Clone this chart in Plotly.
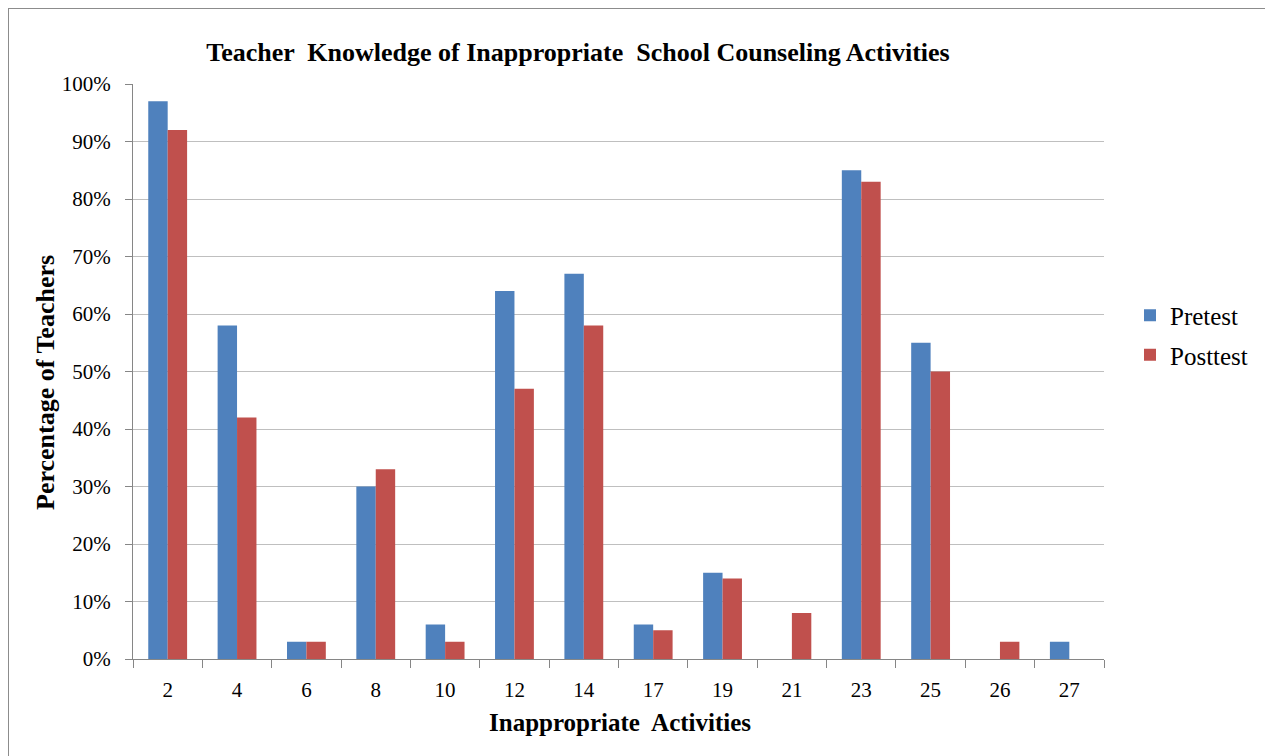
import plotly.graph_objects as go

categories = ["2", "4", "6", "8", "10", "12", "14", "17", "19", "21", "23", "25", "26", "27"]
pretest = [0.97, 0.58, 0.03, 0.30, 0.06, 0.64, 0.67, 0.06, 0.15, 0.0, 0.85, 0.55, 0.0, 0.03]
posttest = [0.92, 0.42, 0.03, 0.33, 0.03, 0.47, 0.58, 0.05, 0.14, 0.08, 0.83, 0.50, 0.03, 0.0]
y_ticks = [i / 10 for i in range(11)]

FONT = "Liberation Serif, Times New Roman, serif"
OFF = 8  # page body margin
W, H = 1273 - OFF, 756 - OFF
# plot area in screen pixels: x 133..1104, y 84..659
L, T = 133 - OFF, 84 - OFF
R = W - (1104 - OFF)
B = H - (659 - OFF)
pw, ph = W - L - R, H - T - B


def px_x(p):
    """screen x pixel -> paper fraction"""
    return (p - OFF - L) / pw


def px_y(p):
    """screen y pixel -> paper fraction"""
    return 1 - (p - OFF - T) / ph


fig = go.Figure()
fig.add_trace(go.Bar(name="Pretest", x=categories, y=pretest, legendgroup="a",
                     marker=dict(color="#4F81BD", line=dict(width=0))))
fig.add_trace(go.Bar(name="Posttest", x=categories, y=posttest, legendgroup="b",
                     marker=dict(color="#C0504D", line=dict(width=0))))

fig.update_layout(
    width=W, height=H,
    margin=dict(l=L, r=R, t=T, b=B, autoexpand=False),
    paper_bgcolor="white", plot_bgcolor="white",
    barmode="group", bargap=0.44, bargroupgap=0,
    font=dict(family=FONT, color="black"),
    showlegend=True,
    legend=dict(x=px_x(1130), y=px_y(335), xanchor="left", yanchor="middle",
                font=dict(size=25, family=FONT), itemwidth=30, tracegroupgap=4,
                traceorder="grouped", bgcolor="rgba(0,0,0,0)"),
    title=dict(text="<b>Teacher  Knowledge of Inappropriate  School Counseling Activities</b>",
               x=(578 - OFF) / W, xanchor="center", y=1 - (52 - OFF) / H, yanchor="middle",
               xref="container", yref="container",
               font=dict(size=26, family=FONT)),
    xaxis=dict(type="category", tickson="boundaries", ticks="outside", ticklen=8,
               tickcolor="#868686", showline=True, linecolor="#868686", linewidth=1,
               tickfont=dict(size=21, family=FONT), showgrid=False,
               ticklabelstandoff=12),
    yaxis=dict(range=[0, 1], tickvals=y_ticks, tickformat=".0%", ticks="outside", ticklen=7,
               tickcolor="#868686", showline=True, linecolor="#868686", linewidth=1,
               showgrid=True, gridcolor="#BFBFBF", gridwidth=1, zeroline=False,
               tickfont=dict(size=21, family=FONT), ticklabelstandoff=10),
    annotations=[
        dict(text="<b>Inappropriate  Activities</b>", xref="paper", yref="paper",
             x=px_x(620), y=px_y(722), xanchor="center", yanchor="middle",
             showarrow=False, font=dict(size=25, family=FONT)),
        dict(text="<b>Percentage of Teachers</b>", xref="paper", yref="paper",
             x=px_x(45), y=px_y(383), xanchor="center", yanchor="middle", textangle=-90,
             showarrow=False, font=dict(size=26, family=FONT)),
    ],
    shapes=[dict(type="rect", xref="paper", yref="paper",
                 x0=px_x(8), x1=px_x(1320), y0=px_y(800), y1=px_y(8),
                 line=dict(color="#8C8C8C", width=2), fillcolor="rgba(0,0,0,0)", layer="below")],
)

fig.write_html("out.html")
